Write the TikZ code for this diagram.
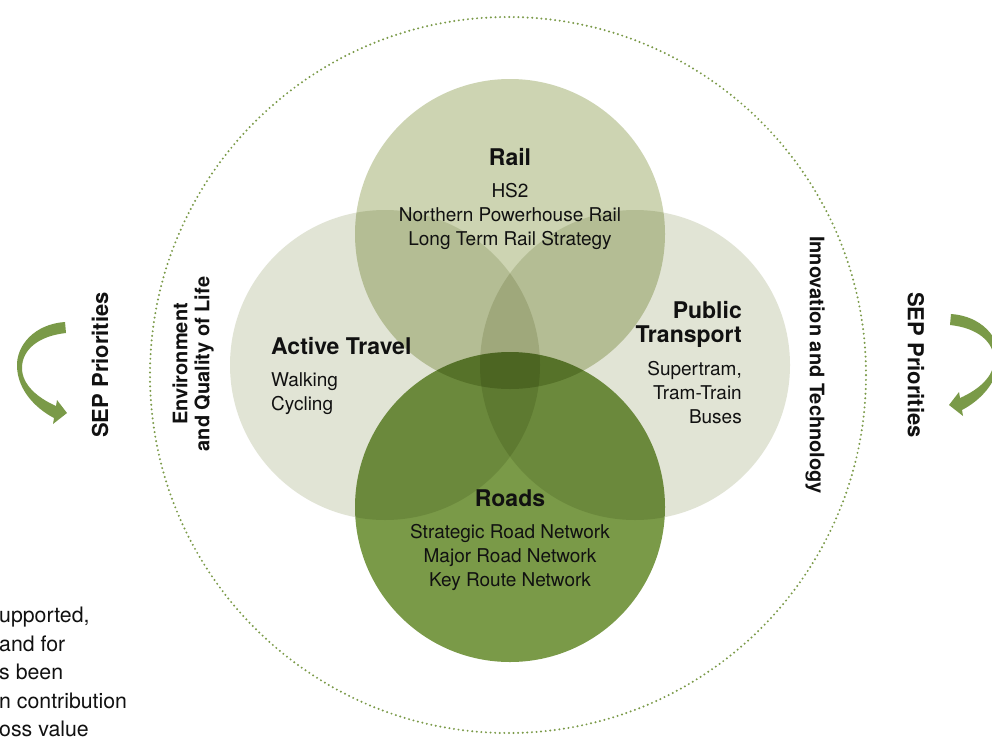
\documentclass[tikz,border=0pt]{standalone}
\usepackage{fontspec}
\setmainfont{TeX Gyre Heros}

\definecolor{sepgreen}{HTML}{7A9A48}
\definecolor{railgreen}{HTML}{CDD4B2}
\definecolor{palegreen}{HTML}{E1E4D5}
\definecolor{roadgreen}{HTML}{7A9A48}
\definecolor{inkblack}{HTML}{111111}

\tikzset{
  venn/.style={circle, minimum size=310pt, inner sep=0pt},
  heading/.style={font=\fontsize{23}{23.5}\selectfont\bfseries, text=inkblack, inner sep=0pt},
  items/.style={font=\fontsize{19}{24}\selectfont, text=inkblack, inner sep=0pt},
  sidelabel/.style={font=\fontsize{20}{22}\selectfont\bfseries, text=inkblack, inner sep=0pt},
}

% curved arrow next to the SEP Priorities label
\newcommand{\priorityarrow}{%
  \fill[sepgreen] (65pt,-322pt) .. controls (35pt,-324pt) and (16pt,-345pt) .. (17pt,-367pt)
    .. controls (18pt,-390pt) and (35pt,-408pt) .. (54pt,-418pt)
    -- (53pt,-424pt) -- (67pt,-413pt) -- (57pt,-400pt) -- (56pt,-406pt)
    .. controls (38pt,-398pt) and (22pt,-385pt) .. (22pt,-368pt)
    .. controls (22pt,-350pt) and (38pt,-336pt) .. (66pt,-333pt) -- cycle;}

\begin{document}
\begin{tikzpicture}
    \clip (0pt,0pt) rectangle (992pt,-736pt);
    \fill[white] (0pt,0pt) rectangle (992pt,-736pt);

    % outer dotted ring
    \draw[sepgreen, line width=2.2pt, dash pattern=on 0pt off 4.6pt, line cap=round] (508pt,-375pt) circle (358pt);

    % the four areas
    \begin{scope}[blend group=multiply]
        \node[venn, fill=palegreen] (active) at (385pt,-365pt) {};
        \node[venn, fill=palegreen] (public) at (635pt,-365pt) {};
        \node[venn, fill=railgreen] (rail) at (510pt,-234pt) {};
        \node[venn, fill=roadgreen] (roads) at (510pt,-507pt) {};
    \end{scope}

    \node[heading] (railtitle) at (510pt,-157.5pt) {Rail};
    \node[items, align=center] (railitems) at (510pt,-216.5pt) {HS2\\Northern Powerhouse Rail\\Long Term Rail Strategy};

    \node[heading, anchor=west] (activetitle) at (271pt,-346pt) {Active Travel};
    \node[items, align=left, anchor=west] (activeitems) at (271pt,-394pt) {Walking\\Cycling};

    \node[heading, align=right, anchor=east] (publictitle) at (742pt,-324.5pt) {Public\\Transport};
    \node[items, align=right, anchor=east] (publicitems) at (742pt,-393pt) {Supertram,\\Tram-Train\\Buses};

    \node[heading] (roadstitle) at (510pt,-498.5pt) {Roads};
    \node[items, align=center] (roadsitems) at (510pt,-557.5pt) {Strategic Road Network\\Major Road Network\\Key Route Network};

    % labels round the ring
    \node[sidelabel, rotate=90, align=center] (envlabel) at (193pt,-364pt) {Environment\\and Quality of Life};
    \node[sidelabel, rotate=-90] (innolabel) at (815pt,-365pt) {Innovation and Technology};
    \node[sidelabel, font=\fontsize{22}{24}\selectfont\bfseries, rotate=90] (sepleft) at (100pt,-365pt) {SEP Priorities};
    \node[sidelabel, font=\fontsize{22}{24}\selectfont\bfseries, rotate=-90] (sepright) at (916pt,-365pt) {SEP Priorities};

    \priorityarrow
    \begin{scope}[xshift=1016pt, xscale=-1, yshift=8pt]
        \priorityarrow
    \end{scope}

    % text running in from the left margin
    \node[items, font=\fontsize{21.3}{28.5}\selectfont, align=left, anchor=north west] (margintext) at (-1pt,-607pt) {upported,\\and for\\s been\\n contribution\\oss value};
\end{tikzpicture}
\end{document}
